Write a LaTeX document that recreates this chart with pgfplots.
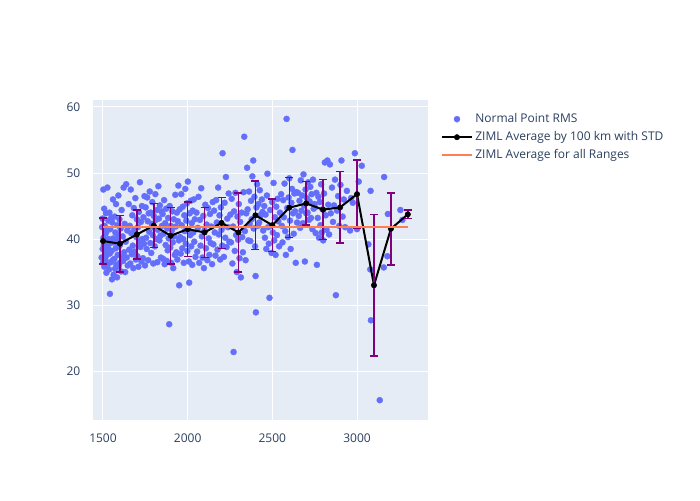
\documentclass[border=0pt]{standalone}
\usepackage{pgfplots}
\usepackage{pgfplotstable}
\pgfplotsset{compat=1.18}
\usepackage{fontspec}
\setmainfont{Open Sans}

\definecolor{plotbg}{HTML}{E5ECF6}
\definecolor{ptblue}{HTML}{636EFA}
\definecolor{avgorange}{HTML}{FF7F50}
\definecolor{txt}{HTML}{2A3F5F}
\definecolor{errpurple}{HTML}{800080}

% normal point RMS values
\pgfplotstableread{
x y
1492 37.2
1495 41.8
1497 43.1
1498 38.5
1500 36.4
1502 47.5
1503 40.2
1505 39.1
1507 44.6
1508 35.8
1510 42.0
1512 38.0
1514 36.9
1515 40.8
1517 43.9
1519 37.5
1520 34.9
1522 41.2
1524 39.0
1526 47.8
1528 36.2
1530 38.7
1532 42.8
1534 40.0
1536 35.4
1538 44.0
1540 37.8
1541 31.7
1543 41.5
1545 39.4
1547 36.5
1548 43.2
1551 38.2
1553 33.9
1555 42.5
1557 36.8
1559 46.0
1561 40.1
1563 34.6
1565 39.5
1567 37.0
1569 43.4
1571 35.5
1573 41.0
1575 38.6
1577 45.3
1579 36.1
1581 39.9
1583 34.2
1585 42.1
1587 37.6
1589 40.7
1591 46.6
1593 35.9
1595 38.9
1597 43.0
1599 36.4
1601 39.2
1604 41.6
1607 35.1
1610 44.4
1613 37.3
1616 40.4
1619 36.7
1622 47.8
1625 38.0
1628 42.3
1631 35.0
1634 39.6
1637 48.3
1640 37.2
1643 41.3
1646 36.0
1652 45.3
1655 38.4
1658 42.0
1661 36.3
1664 47.5
1667 40.9
1670 37.7
1673 43.6
1676 39.0
1679 35.6
1682 44.7
1685 41.4
1688 38.1
1691 46.2
1694 36.9
1697 40.3
1700 43.0
1703 37.4
1706 41.8
1709 35.8
1712 44.1
1715 39.6
1718 48.6
1721 38.8
1724 42.6
1727 36.6
1730 45.0
1733 40.0
1736 37.1
1739 43.3
1742 39.3
1745 46.5
1748 36.0
1752 44.8
1755 40.2
1758 38.5
1761 46.3
1764 42.7
1767 36.8
1770 43.9
1773 41.1
1776 47.2
1779 39.4
1782 44.0
1785 37.9
1788 42.3
1791 45.6
1794 40.6
1797 36.3
1800 43.5
1803 41.7
1806 38.9
1809 46.8
1812 42.9
1815 40.0
1818 44.4
1821 36.5
1824 41.4
1827 48.0
1830 43.1
1833 39.8
1836 45.1
1839 40.5
1842 37.2
1845 44.2
1848 42.0
1852 43.8
1855 37.0
1858 40.8
1861 45.9
1864 36.2
1867 42.4
1870 39.1
1873 44.6
1876 36.7
1879 41.6
1882 38.3
1885 43.2
1888 40.1
1891 27.1
1894 45.0
1897 38.7
1900 42.0
1903 36.4
1906 41.3
1909 44.2
1912 39.5
1915 35.6
1918 43.0
1921 40.4
1924 37.6
1927 46.7
1930 41.9
1933 38.0
1936 44.0
1939 36.9
1942 42.7
1945 48.1
1948 39.8
1950 33.0
1953 44.5
1956 40.3
1959 37.8
1962 46.8
1965 42.1
1968 38.6
1971 44.9
1974 40.0
1977 36.4
1980 43.6
1983 41.2
1986 47.6
1989 39.3
1992 42.8
1995 45.4
1998 38.2
2001 48.7
2004 41.5
2007 36.6
2009 33.4
2012 43.9
2015 40.6
2018 45.8
2021 38.9
2024 42.4
2027 36.1
2030 44.3
2033 41.0
2036 46.0
2039 39.6
2042 43.0
2046 37.3
2052 44.0
2056 38.1
2060 41.7
2064 46.4
2068 36.4
2072 42.9
2076 39.0
2080 47.7
2084 40.4
2088 37.2
2092 43.5
2096 35.6
2100 41.3
2104 45.2
2108 38.6
2112 42.2
2116 36.8
2120 44.7
2124 40.1
2128 37.6
2132 43.8
2136 39.4
2140 41.9
2144 36.2
2148 45.6
2152 39.2
2156 44.3
2160 41.0
2164 37.5
2168 45.9
2172 42.5
2176 38.4
2180 47.8
2184 40.7
2188 43.6
2192 36.9
2196 44.8
2200 41.4
2204 39.0
2206 53.0
2210 42.0
2214 37.3
2218 45.5
2222 40.2
2226 49.4
2230 38.8
2234 43.1
2238 41.8
2242 46.9
2246 39.6
2252 43.7
2256 39.5
2260 46.1
2264 36.3
2268 41.9
2271 22.9
2274 44.2
2278 38.2
2282 47.0
2286 40.6
2290 35.0
2294 43.4
2298 39.9
2302 45.3
2306 37.1
2310 42.6
2314 34.2
2318 44.0
2322 40.3
2326 38.0
2330 47.1
2334 55.5
2338 41.2
2342 36.8
2346 43.9
2351 50.8
2354 44.5
2358 39.8
2362 47.2
2366 42.3
2370 39.7
2374 45.8
2378 43.0
2382 49.5
2387 51.9
2390 41.6
2394 46.4
2398 38.9
2401 34.4
2403 28.9
2406 44.8
2410 48.3
2414 42.0
2418 45.3
2422 42.5
2426 47.4
2430 43.6
2434 43.7
2438 46.0
2442 44.1
2446 41.3
2452 45.0
2456 40.2
2460 43.7
2464 38.5
2468 46.6
2471 49.9
2475 41.8
2479 39.3
2483 31.1
2487 44.4
2491 42.0
2495 37.9
2499 45.6
2503 41.0
2507 48.5
2511 39.8
2515 43.3
2519 37.6
2523 44.9
2527 40.6
2531 46.1
2535 42.7
2540 38.9
2545 44.0
2552 46.8
2556 42.0
2560 39.5
2564 45.9
2568 43.3
2572 48.4
2576 41.2
2580 37.6
2584 58.2
2588 44.7
2592 40.3
2596 46.3
2600 49.2
2604 42.8
2608 38.5
2612 45.5
2616 47.6
2619 53.5
2622 43.9
2626 40.8
2630 46.9
2634 44.2
2638 36.4
2642 47.1
2646 42.5
2652 47.0
2656 43.5
2660 45.8
2664 41.7
2668 48.9
2672 44.3
2676 46.6
2680 42.4
2684 49.8
2688 45.1
2692 36.6
2696 47.5
2700 43.9
2704 46.2
2708 44.0
2712 48.6
2716 42.9
2720 45.7
2724 47.9
2728 43.2
2732 46.8
2736 41.5
2740 49.0
2744 44.6
2748 45.3
2752 44.8
2756 40.9
2760 47.0
2763 36.1
2768 43.2
2772 46.4
2776 40.2
2780 45.6
2784 42.1
2788 48.3
2792 41.0
2796 44.5
2800 39.8
2805 46.9
2810 51.6
2815 43.6
2820 41.4
2825 51.9
2830 45.2
2835 40.7
2840 51.3
2845 43.9
2852 47.8
2858 42.6
2864 45.1
2870 49.0
2875 31.5
2882 44.3
2888 46.5
2895 42.0
2902 48.2
2908 51.9
2915 43.4
2922 46.0
2930 41.8
2940 47.3
2959 41.3
2965 46.2
2975 45.5
2987 53.0
3000 41.5
3010 48.7
3028 51.1
3067 39.2
3078 35.4
3080 47.3
3082 27.7
3134 15.6
3158 35.7
3160 49.4
3179 37.4
3182 43.8
3256 44.4
3268 42.9
}\rmsdata

% average by 100 km with standard deviation
\pgfplotstableread{
x y e
1500 39.7 3.5
1600 39.3 4.3
1700 40.7 3.7
1800 42.05 3.35
1900 40.5 4.3
2000 41.5 4.1
2100 41.0 3.8
2200 42.45 3.85
2300 41.0 6.0
2400 43.6 5.2
2500 42.1 4.0
2600 44.75 4.55
2700 45.4 3.3
2800 44.45 4.55
2900 44.8 5.4
3000 46.8 5.2
3100 33.0 10.7
3200 41.55 5.45
3300 43.75 0.65
}\avgdata

\begin{document}
\begin{tikzpicture}
\path (0pt,0pt) rectangle (525pt,375pt);
\begin{axis}[
    at={(69.75pt,60pt)}, anchor=south west,
    scale only axis,
    width=251.25pt, height=240pt,
    xmin=1441, xmax=3419,
    ymin=12.6, ymax=61.06,
    xtick={1500,2000,2500,3000},
    ytick={20,30,40,50,60},
    axis background/.style={fill=plotbg},
    axis line style={draw=none},
    major tick length=0pt,
    grid=major,
    major grid style={white, line width=0.75pt},
    clip marker paths=true,
    tick label style={font=\fontsize{9}{10.8}\selectfont, text=txt},
    xticklabel style={yshift=-7pt},
    yticklabel style={xshift=-6pt},
    /pgf/number format/assume math mode=true,
    /pgf/number format/set thousands separator={},
    legend style={at={(1.027,0.975)}, anchor=north west, draw=none, fill=none,
        font=\fontsize{9}{10.8}\selectfont, text=txt, row sep=1.2pt,
        /tikz/every even column/.append style={column sep=2pt}},
    legend cell align=left,
    legend image code/.code={\draw[mark repeat=2,mark phase=2,#1] plot coordinates {(0pt,0pt) (11pt,0pt) (22pt,0pt)};},
]
\addplot[only marks, mark=*, mark size=2.3pt, mark options={draw=ptblue, fill=ptblue, line width=0.2pt}] table[x=x,y=y] {\rmsdata};
\addlegendentry{Normal Point RMS}

\addplot[black, line width=1.5pt, mark=*, mark size=2pt, mark options={line width=0.4pt},
    error bars/.cd, y dir=both, y explicit,
    error bar style={errpurple, line width=1.1pt},
    error mark options={rotate=90, mark size=3pt, errpurple, line width=1.1pt}]
    table[x=x, y=y, y error=e] {\avgdata};
\addlegendentry{ZIML Average by 100 km with STD}

\addplot[avgorange, line width=1.5pt] coordinates {(1500,41.9) (3300,41.9)};
\addlegendentry{ZIML Average for all Ranges}
\end{axis}
\end{tikzpicture}
\end{document}
